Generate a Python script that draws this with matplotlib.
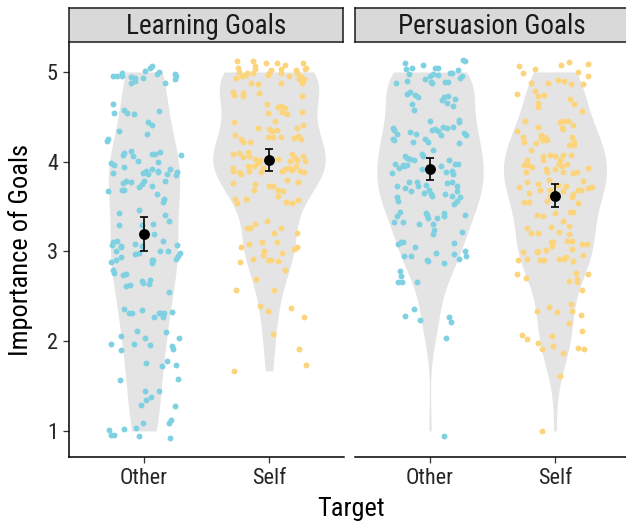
import numpy as np
import matplotlib
matplotlib.use("Agg")
import matplotlib.pyplot as plt

plt.rcParams["font.family"] = ["Roboto Condensed", "DejaVu Sans"]

panels = ["Learning Goals", "Persuasion Goals"]
targets = ["Other", "Self"]
target_colors = ["#7fd1e2", "#fcd47c"]

# cell means with 95% CI bounds, ordered Other, Self
learn_mean = [3.19, 4.02]
learn_lo = [3.01, 3.90]
learn_hi = [3.38, 4.14]
pers_mean = [3.92, 3.62]
pers_lo = [3.80, 3.49]
pers_hi = [4.04, 3.75]

# individual ratings (jittered) and their horizontal jitter
learn_other_y = [
    4.96, 4.95, 4.99, 4.96, 4.94, 4.93, 4.90, 4.88, 4.93, 5.01, 5.04, 5.07, 4.98, 5.00,
    4.88, 4.98, 4.96, 4.92, 4.64, 4.54, 4.58, 4.54, 4.53, 4.57, 4.44, 4.41, 4.34, 4.25,
    4.23, 4.31, 4.10, 4.07, 4.12, 4.06, 4.01, 4.09, 4.09, 4.11, 4.00, 4.08, 3.99, 3.96,
    3.94, 3.87, 3.87, 3.90, 3.86, 3.92, 3.90, 3.88, 3.86, 3.92, 3.89, 3.85, 3.76, 3.79,
    3.77, 3.72, 3.75, 3.78, 3.73, 3.78, 3.68, 3.69, 3.67, 3.64, 3.55, 3.59, 3.43, 3.46,
    3.41, 3.34, 3.29, 3.30, 3.31, 3.20, 3.11, 3.12, 3.07, 3.06, 3.05, 3.08, 3.06, 3.12,
    3.07, 3.00, 2.94, 2.97, 2.98, 3.00, 3.01, 2.88, 2.90, 2.91, 2.87, 2.90, 2.92, 2.95,
    2.98, 2.79, 2.76, 2.74, 2.75, 2.61, 2.63, 2.67, 2.65, 2.68, 2.64, 2.55, 2.36, 2.31,
    2.32, 2.35, 2.27, 2.31, 2.32, 2.27, 2.32, 2.33, 2.06, 2.11, 2.04, 1.97, 1.97, 1.96,
    1.90, 2.10, 2.04, 1.95, 1.91, 1.76, 1.72, 1.78, 1.73, 1.57, 1.58, 1.45, 1.45, 1.35,
    1.38, 1.29, 1.28, 1.09, 1.09, 1.12, 1.01, 0.96, 0.96, 1.02, 1.03, 0.94, 0.92,
]
learn_other_dx = [
    -0.245, -0.219, -0.173, -0.179, -0.107, -0.072, -0.072, -0.107, -0.011, 0.008, 0.048,
    0.064, 0.101, 0.120, 0.165, 0.248, 0.256, 0.245, -0.245, -0.240, -0.157, -0.139,
    -0.083, 0.123, 0.035, 0.061, -0.200, -0.285, -0.293, 0.021, -0.157, -0.165, -0.107,
    -0.085, -0.051, 0.067, 0.088, 0.128, 0.109, 0.293, -0.264, -0.240, -0.160, -0.245,
    -0.005, 0.016, 0.035, 0.067, 0.115, 0.115, 0.187, 0.208, 0.261, 0.256, -0.165, -0.144,
    -0.104, -0.037, -0.019, 0.000, 0.061, 0.171, -0.173, -0.157, -0.285, 0.101, 0.149,
    0.160, -0.200, -0.037, 0.171, 0.203, -0.197, -0.013, 0.069, 0.080, -0.245, -0.219,
    -0.259, -0.187, -0.187, -0.072, -0.013, 0.149, 0.267, -0.224, -0.181, -0.072, -0.040,
    0.128, 0.192, -0.267, -0.227, 0.064, 0.064, 0.069, 0.256, 0.275, 0.288, -0.251,
    -0.240, -0.171, -0.144, -0.147, -0.112, -0.013, -0.011, 0.048, 0.043, 0.200, -0.157,
    -0.117, -0.099, -0.019, 0.080, 0.120, 0.136, 0.149, 0.160, 0.221, -0.184, -0.059,
    0.008, -0.267, -0.083, 0.051, -0.184, 0.173, 0.280, 0.227, 0.232, 0.016, 0.141, 0.187,
    0.256, -0.192, 0.269, 0.008, 0.123, 0.013, 0.053, -0.027, 0.251, -0.005, 0.197, 0.213,
    -0.280, -0.267, -0.240, -0.160, -0.067, -0.037, 0.208,
]
learn_self_y = [
    5.12, 5.04, 5.00, 4.93, 4.95, 4.97, 4.99, 5.12, 5.07, 5.03, 4.99, 4.88, 4.87, 5.10,
    5.02, 4.99, 4.97, 5.10, 5.03, 4.99, 4.88, 5.08, 4.96, 5.02, 4.99, 4.96, 5.03, 5.04,
    5.10, 4.92, 4.92, 4.88, 4.78, 4.74, 4.77, 4.73, 4.77, 4.73, 4.64, 4.54, 4.61, 4.62,
    4.60, 4.55, 4.53, 4.55, 4.44, 4.45, 4.38, 4.36, 4.34, 4.35, 4.38, 4.41, 4.30, 4.25,
    4.22, 4.22, 4.28, 4.27, 4.27, 4.26, 4.29, 4.25, 4.09, 4.10, 4.11, 4.06, 4.05, 4.03,
    3.99, 4.02, 4.03, 4.09, 4.01, 4.04, 4.02, 4.06, 4.01, 3.93, 3.90, 3.88, 3.86, 3.95,
    3.90, 3.95, 3.88, 3.93, 3.90, 3.92, 3.93, 3.91, 3.95, 3.90, 3.89, 3.76, 3.75, 3.68,
    3.73, 3.73, 3.69, 3.67, 3.62, 3.80, 3.77, 3.58, 3.54, 3.58, 3.55, 3.54, 3.57, 3.26,
    3.26, 3.31, 3.34, 3.21, 3.26, 3.21, 3.05, 3.08, 3.10, 3.10, 3.03, 3.05, 3.00, 2.96,
    2.92, 2.91, 2.91, 2.89, 2.98, 2.88, 2.79, 2.69, 2.57, 2.57, 2.39, 2.34, 2.37, 2.27,
    2.08, 1.91, 1.74, 1.67,
]
learn_self_dx = [
    -0.259, -0.245, -0.237, -0.264, -0.219, -0.184, -0.173, -0.131, -0.112, -0.112,
    -0.125, -0.147, -0.085, -0.024, 0.013, 0.003, -0.005, 0.061, 0.093, 0.099, 0.093,
    0.128, 0.163, 0.216, 0.227, 0.248, 0.288, 0.296, 0.269, 0.243, 0.283, 0.261, -0.291,
    -0.280, -0.205, -0.211, -0.080, 0.261, -0.019, -0.005, 0.075, 0.093, 0.128, 0.101,
    0.147, 0.261, -0.280, 0.048, -0.091, 0.003, 0.021, 0.061, 0.227, 0.269, -0.272,
    -0.227, -0.211, -0.152, -0.011, 0.035, 0.093, 0.200, 0.235, 0.253, -0.291, -0.237,
    -0.165, -0.157, -0.205, -0.112, -0.085, -0.072, 0.075, 0.181, 0.168, 0.208, 0.227,
    0.275, 0.288, -0.285, -0.291, -0.237, -0.227, -0.165, -0.157, -0.117, -0.067, -0.051,
    0.101, 0.128, 0.163, 0.181, 0.216, 0.248, 0.280, -0.285, -0.112, -0.120, 0.003, 0.035,
    0.075, 0.115, 0.069, 0.147, 0.235, -0.272, -0.259, -0.184, 0.136, 0.181, 0.235,
    -0.179, -0.152, -0.112, -0.019, 0.043, 0.093, 0.227, -0.227, -0.157, -0.059, 0.067,
    0.200, 0.227, -0.040, -0.045, -0.125, -0.005, 0.013, 0.075, 0.101, -0.232, 0.128,
    -0.107, -0.264, 0.040, -0.072, -0.005, 0.173, 0.280, 0.029, 0.243, 0.293, -0.277,
]
pers_other_y = [
    5.10, 5.03, 5.04, 4.98, 5.08, 5.04, 5.04, 4.98, 4.96, 4.97, 4.99, 4.99, 5.02, 4.93,
    4.96, 5.12, 5.13, 4.88, 4.90, 4.92, 4.89, 4.88, 4.89, 4.89, 4.76, 4.78, 4.74, 4.72,
    4.69, 4.72, 4.73, 4.70, 4.65, 4.62, 4.64, 4.58, 4.38, 4.35, 4.31, 4.25, 4.24, 4.33,
    4.31, 4.22, 4.25, 4.22, 4.45, 4.35, 4.36, 4.34, 4.30, 4.39, 4.38, 4.39, 4.46, 4.44,
    4.32, 4.30, 4.21, 4.06, 4.04, 4.03, 4.02, 4.09, 4.06, 4.13, 4.02, 3.98, 3.98, 3.98,
    3.95, 3.93, 3.96, 3.96, 3.87, 3.92, 3.95, 3.88, 3.90, 3.86, 3.73, 3.71, 3.67, 3.77,
    3.77, 3.73, 3.74, 3.65, 3.68, 3.64, 3.62, 3.76, 3.77, 3.73, 3.64, 3.62, 3.67, 3.61,
    3.56, 3.53, 3.61, 3.56, 3.44, 3.39, 3.33, 3.33, 3.31, 3.43, 3.41, 3.37, 3.31, 3.37,
    3.43, 3.40, 3.41, 3.24, 3.20, 3.22, 3.08, 3.10, 3.10, 3.05, 3.09, 2.95, 2.95, 2.91,
    2.89, 2.98, 2.87, 2.97, 2.92, 3.00, 2.95, 2.78, 2.73, 2.66, 2.66, 2.66, 2.36, 2.28,
    2.24, 2.27, 2.21, 2.04, 0.94,
]
pers_other_dx = [
    -0.200, -0.192, -0.147, -0.165, -0.059, 0.040, 0.067, 0.027, 0.000, 0.067, 0.160,
    0.173, 0.221, 0.240, 0.253, 0.280, 0.268, -0.272, -0.181, -0.040, 0.005, 0.013, 0.120,
    0.141, -0.181, -0.160, -0.120, -0.093, 0.093, 0.112, 0.147, 0.200, 0.133, 0.181,
    -0.147, -0.125, -0.299, -0.288, -0.267, -0.299, -0.288, -0.160, -0.112, -0.133,
    -0.040, -0.013, 0.000, 0.013, 0.040, 0.067, 0.085, 0.101, 0.133, 0.181, 0.235, 0.235,
    0.272, 0.288, 0.235, -0.200, -0.187, -0.160, -0.125, -0.067, -0.059, 0.027, 0.155,
    0.200, 0.227, -0.280, -0.205, -0.245, -0.219, -0.181, -0.307, -0.067, 0.085, 0.128,
    0.173, 0.181, -0.267, -0.200, -0.155, -0.165, -0.107, -0.093, -0.032, -0.048, -0.005,
    0.005, 0.013, 0.139, 0.173, 0.219, 0.120, 0.173, 0.219, 0.240, 0.219, 0.192, -0.261,
    -0.259, -0.240, -0.261, -0.288, -0.213, -0.085, -0.032, -0.021, -0.013, 0.021, 0.053,
    0.112, 0.112, 0.280, 0.032, 0.027, 0.253, -0.253, -0.235, -0.213, -0.120, 0.192,
    -0.205, -0.155, -0.027, -0.019, 0.048, 0.112, 0.192, 0.235, 0.280, 0.288, -0.240,
    -0.235, -0.253, -0.221, -0.107, -0.128, -0.200, -0.080, 0.155, 0.165, 0.125, 0.112,
]
pers_self_y = [
    5.07, 4.99, 5.03, 5.08, 5.11, 5.09, 5.00, 4.96, 4.87, 4.88, 4.88, 4.91, 4.90, 4.87,
    4.75, 4.79, 4.73, 4.74, 4.65, 4.61, 4.70, 4.64, 4.56, 4.45, 4.34, 4.39, 4.27, 4.22,
    4.21, 4.30, 4.26, 4.24, 4.27, 4.24, 4.44, 4.45, 4.38, 4.36, 4.45, 4.41, 4.27, 4.19,
    4.22, 4.19, 4.13, 4.02, 3.96, 3.96, 3.94, 4.06, 4.02, 4.08, 4.06, 4.02, 4.07, 4.07,
    3.97, 3.98, 3.95, 3.92, 3.92, 3.88, 3.88, 3.88, 3.93, 3.87, 3.88, 3.72, 3.77, 3.75,
    3.68, 3.65, 3.80, 3.69, 3.74, 3.67, 3.73, 3.61, 3.64, 3.69, 3.69, 3.79, 3.71, 3.72,
    3.55, 3.55, 3.56, 3.62, 3.54, 3.43, 3.41, 3.40, 3.44, 3.44, 3.34, 3.26, 3.21, 3.21,
    3.27, 3.22, 3.28, 3.20, 3.11, 3.10, 3.06, 3.12, 3.12, 3.03, 3.08, 3.08, 2.96, 2.99,
    2.99, 3.00, 3.02, 2.91, 2.92, 2.91, 2.91, 2.92, 2.92, 2.94, 2.89, 2.75, 2.71, 2.76,
    2.69, 2.66, 2.67, 2.75, 2.57, 2.34, 2.38, 2.33, 2.42, 2.34, 2.29, 2.20, 2.11, 2.07,
    2.02, 1.98, 1.91, 2.06, 1.95, 1.87, 1.92, 1.91, 1.61, 1.00,
]
pers_self_dx = [
    -0.285, -0.259, -0.160, 0.045, 0.112, 0.267, 0.181, 0.261, 0.221, -0.195, -0.053,
    0.021, 0.075, 0.128, -0.301, -0.160, -0.133, -0.085, -0.139, -0.133, 0.120, 0.152,
    0.219, -0.240, -0.307, -0.133, -0.259, -0.245, -0.152, -0.112, -0.112, -0.099, -0.080,
    -0.067, 0.040, 0.061, 0.053, 0.067, 0.107, 0.147, 0.133, 0.112, 0.152, 0.155, -0.195,
    -0.227, -0.245, -0.213, -0.181, -0.093, -0.093, -0.040, 0.000, 0.040, 0.061, 0.128,
    0.032, 0.093, 0.053, 0.000, -0.075, -0.067, 0.067, -0.235, 0.267, 0.147, 0.173,
    -0.285, -0.227, -0.133, -0.120, -0.208, -0.045, -0.040, 0.021, 0.061, 0.088, 0.139,
    0.147, 0.187, 0.208, 0.227, 0.267, 0.293, -0.245, -0.205, -0.067, -0.040, 0.187,
    0.000, -0.147, -0.099, 0.120, 0.147, 0.061, -0.227, -0.192, -0.139, -0.032, 0.035,
    0.112, 0.112, -0.032, -0.013, -0.021, 0.093, 0.139, 0.139, 0.219, 0.253, 0.227,
    -0.259, -0.147, -0.133, -0.075, -0.299, -0.227, -0.120, -0.085, 0.035, 0.075, 0.085,
    0.147, -0.307, -0.235, 0.168, 0.173, 0.179, 0.112, 0.261, 0.213, -0.141, -0.045,
    0.013, 0.128, 0.139, 0.205, 0.112, 0.213, -0.267, -0.227, -0.133, -0.101, -0.021,
    -0.019, 0.061, 0.181, 0.235, 0.040, -0.107,
]

cells = [
    [(learn_other_y, learn_other_dx), (learn_self_y, learn_self_dx)],
    [(pers_other_y, pers_other_dx), (pers_self_y, pers_self_dx)],
]
summaries = [(learn_mean, learn_lo, learn_hi), (pers_mean, pers_lo, pers_hi)]


def nrd0(x):
    # Silverman's rule of thumb, as R's bw.nrd0
    iqr = np.subtract(*np.percentile(x, [75, 25]))
    spread = min(np.std(x, ddof=1), iqr / 1.34)
    return 0.9 * spread * len(x) ** -0.2


def trimmed_kde(x, adjust=1.1, n=512):
    grid = np.linspace(x.min(), x.max(), n)
    bw = nrd0(x) * adjust
    z = (grid[:, None] - x[None, :]) / bw
    dens = np.exp(-0.5 * z ** 2).sum(axis=1) / (len(x) * bw * np.sqrt(2 * np.pi))
    return grid, dens


# the jitter pushes some points past the 1-5 scale; the violins use the scale values
kdes = [[trimmed_kde(np.clip(np.asarray(y), 1, 5)) for y, _ in row] for row in cells]
dmax = max(d.max() for row in kdes for _, d in row)

W, H = 626, 523
fig = plt.figure(figsize=(W / 100, H / 100), dpi=100)
lefts = [69, 355]
axes = []
for i, (left, title) in enumerate(zip(lefts, panels)):
    ax = fig.add_axes([left / W, 66 / H, 275 / W, 415 / H])
    strip = fig.add_axes([left / W, 481 / H, 274 / W, 34 / H])
    strip.set_facecolor("#d9d9d9")
    strip.set_xticks([])
    strip.set_yticks([])
    for s in strip.spines.values():
        s.set_linewidth(1.1)
        s.set_color("#1a1a1a")
    strip.text(0.5, 0.47, title, ha="center", va="center", fontsize=19.5, color="#1a1a1a",
               transform=strip.transAxes)

    means, lo, hi = summaries[i]
    for j, ((y, dx), (grid, dens)) in enumerate(zip(cells[i], kdes[i])):
        xpos = j + 1
        half = dens / dmax * 0.45
        ax.fill_betweenx(grid, xpos - half, xpos + half, color="#e4e4e4", lw=0, zorder=1)
        ax.scatter(xpos + np.asarray(dx), y, s=18, color=target_colors[j], lw=0, zorder=2)
        ax.errorbar(xpos, means[j], yerr=[[means[j] - lo[j]], [hi[j] - means[j]]],
                    fmt="o", color="black", ms=6.8, elinewidth=1.2, capsize=3,
                    capthick=1.2, zorder=3)

    ax.set_xlim(0.4, 2.6)
    ax.set_ylim(0.71, 5.334)
    ax.set_xticks([1, 2])
    ax.set_xticklabels(targets)
    ax.set_yticks([1, 2, 3, 4, 5])
    for side in ("top", "right"):
        ax.spines[side].set_visible(False)
    ax.spines["bottom"].set_linewidth(1.1)
    ax.spines["left"].set_linewidth(1.1)
    ax.tick_params(length=4, width=0.9, color="#333333", labelsize=16,
                   labelcolor="#262626", pad=4)
    if i == 1:
        ax.spines["left"].set_visible(False)
        ax.tick_params(axis="y", left=False, labelleft=False)
    axes.append(ax)

axes[0].set_ylabel("Importance of Goals", fontsize=19, labelpad=10)
fig.text(351 / W, 14 / H, "Target", ha="center", va="center", fontsize=19)

fig.savefig("out.png", dpi=100)
